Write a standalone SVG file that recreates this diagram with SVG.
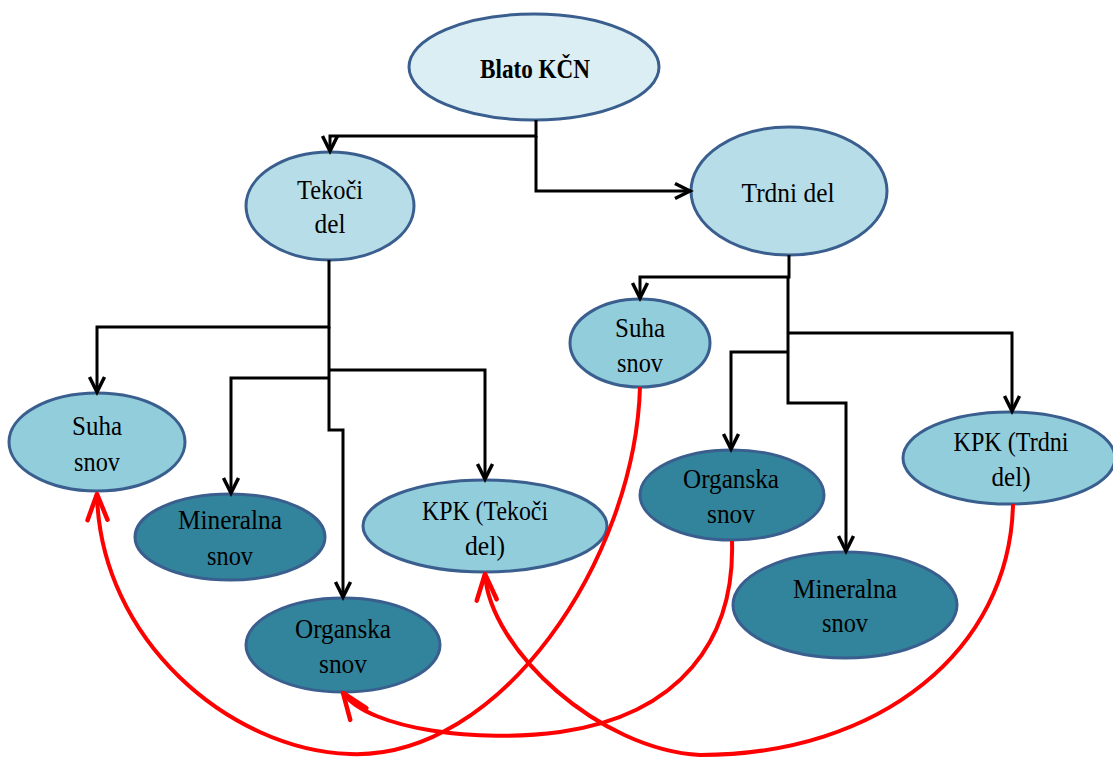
<svg xmlns="http://www.w3.org/2000/svg" width="1113" height="757" viewBox="0 0 1113 757">
<style>
.n{stroke:#3A5F8F;stroke-width:3}
.top{fill:#DBEEF4}
.lt{fill:#B7DEE8}
.md{fill:#92CDDC}
.dk{fill:#31849B}
text{font-family:"Liberation Serif","Times New Roman",serif;font-size:28px;fill:#000;text-anchor:middle}
.b{font-weight:bold}
.k{fill:none;stroke:#000;stroke-width:3;marker-end:url(#ab)}
.r{fill:none;stroke:#FF0000;stroke-width:4;marker-end:url(#ar)}
</style>
<defs>
<marker id="ab" markerUnits="userSpaceOnUse" orient="auto" overflow="visible" markerWidth="1" markerHeight="1"><path d="M-15,-7.5 L0,0 L-15,7.5" fill="none" stroke="#000" stroke-width="3.5"/></marker>
<marker id="ar" markerUnits="userSpaceOnUse" orient="auto" overflow="visible" markerWidth="1" markerHeight="1"><path d="M-26,-10 L0,0 L-26,10" fill="none" stroke="#FF0000" stroke-width="4.5" stroke-linecap="round" stroke-linejoin="round"/></marker>
</defs>
<rect width="1113" height="757" fill="#fff"/>
<g id="blato"><ellipse class="n top" cx="534" cy="67" rx="125" ry="53"/><text class="b" x="535" y="78" textLength="110" lengthAdjust="spacingAndGlyphs">Blato KČN</text></g>
<g id="tekoci"><ellipse class="n lt" cx="330" cy="206" rx="84" ry="54"/><text x="330" y="199" textLength="66" lengthAdjust="spacingAndGlyphs">Tekoči</text><text x="330" y="233" textLength="31" lengthAdjust="spacingAndGlyphs">del</text></g>
<g id="trdni"><ellipse class="n lt" cx="789" cy="191" rx="98" ry="64"/><text x="788" y="202" textLength="93" lengthAdjust="spacingAndGlyphs">Trdni del</text></g>
<g id="suha1"><ellipse class="n md" cx="97" cy="442" rx="88" ry="49"/><text x="97" y="435" textLength="50" lengthAdjust="spacingAndGlyphs">Suha</text><text x="97" y="471" textLength="46" lengthAdjust="spacingAndGlyphs">snov</text></g>
<g id="mineralna1"><ellipse class="n dk" cx="230" cy="537" rx="95" ry="43"/><text x="230" y="529" textLength="104" lengthAdjust="spacingAndGlyphs">Mineralna</text><text x="230" y="565" textLength="46" lengthAdjust="spacingAndGlyphs">snov</text></g>
<g id="kpk1"><ellipse class="n md" cx="485" cy="526" rx="122" ry="46"/><text x="485" y="520" textLength="126" lengthAdjust="spacingAndGlyphs">KPK (Tekoči</text><text x="485" y="555" textLength="40" lengthAdjust="spacingAndGlyphs">del)</text></g>
<g id="organska1"><ellipse class="n dk" cx="343" cy="645" rx="97" ry="47"/><text x="343" y="638" textLength="96" lengthAdjust="spacingAndGlyphs">Organska</text><text x="343" y="673" textLength="48" lengthAdjust="spacingAndGlyphs">snov</text></g>
<g id="suha2"><ellipse class="n md" cx="640" cy="343" rx="70" ry="44"/><text x="640" y="337" textLength="50" lengthAdjust="spacingAndGlyphs">Suha</text><text x="640" y="372" textLength="46" lengthAdjust="spacingAndGlyphs">snov</text></g>
<g id="organska2"><ellipse class="n dk" cx="732" cy="495" rx="92" ry="45"/><text x="731" y="488" textLength="96" lengthAdjust="spacingAndGlyphs">Organska</text><text x="731" y="523" textLength="48" lengthAdjust="spacingAndGlyphs">snov</text></g>
<g id="mineralna2"><ellipse class="n dk" cx="845" cy="605" rx="112" ry="53"/><text x="845" y="598" textLength="104" lengthAdjust="spacingAndGlyphs">Mineralna</text><text x="845" y="632" textLength="46" lengthAdjust="spacingAndGlyphs">snov</text></g>
<g id="kpk2"><ellipse class="n md" cx="1009" cy="458" rx="106" ry="46"/><text x="1011" y="451" textLength="115" lengthAdjust="spacingAndGlyphs">KPK (Trdni</text><text x="1011" y="486" textLength="39" lengthAdjust="spacingAndGlyphs">del)</text></g>
<g id="connectors">
<path class="k" d="M536 120 V136 H330 V151"/>
<path class="k" d="M536 136 V191 H690"/>
<path class="k" d="M329 260 V327 H97 V392"/>
<path class="k" d="M329 327 V430 H343 V597"/>
<path class="k" d="M329 378 H231 V493"/>
<path class="k" d="M329 370 H485 V479"/>
<path class="k" d="M789 255 V277 H640 V298"/>
<path class="k" d="M788 277 V403 H846 V551"/>
<path class="k" d="M788 333 H1012 V411"/>
<path class="k" d="M788 352 H731 V449"/>
<path class="r" d="M640 387 C635 560 500 760 350 754 C230 750 100 640 97 494"/>
<path class="r" d="M732 541 C735 640 680 715 560 732 C480 743 370 730 343 693"/>
<path class="r" d="M1013 504 C1010 650 880 755 700 755 C600 750 490 650 485 574"/>
</g>
</svg>
